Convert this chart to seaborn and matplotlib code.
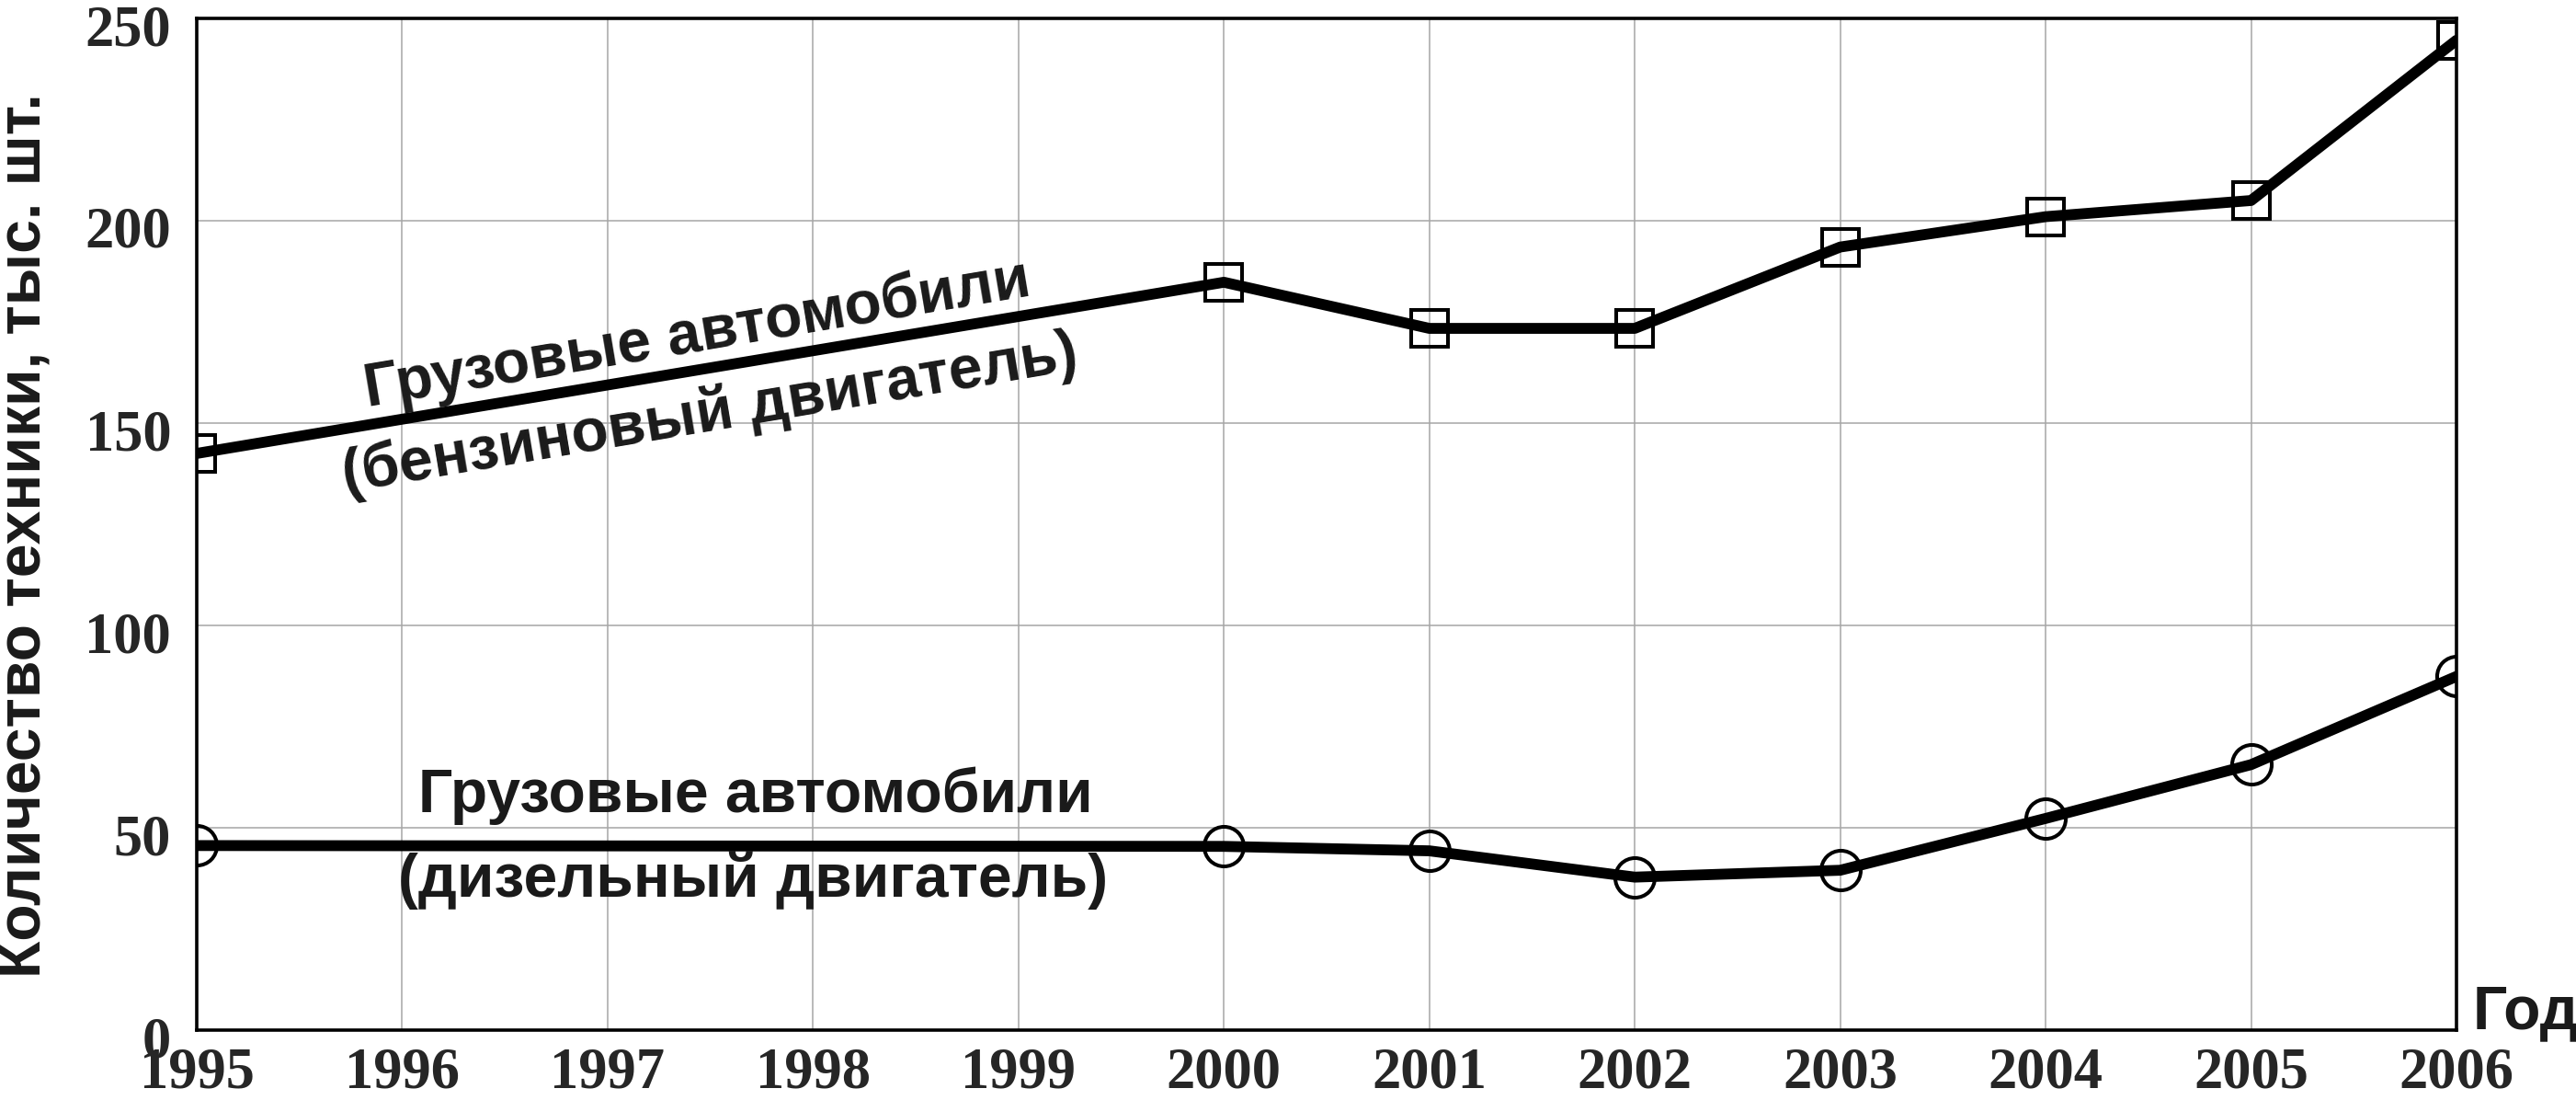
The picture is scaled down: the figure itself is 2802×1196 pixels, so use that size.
import matplotlib
matplotlib.use("Agg")
import matplotlib.pyplot as plt
from matplotlib.transforms import ScaledTranslation
import seaborn as sns
import pandas as pd

# ---- data ----
years = [1995, 2000, 2001, 2002, 2003, 2004, 2005, 2006]
petrol = [142.5, 184.8, 173.4, 173.4, 193.5, 201.0, 205.0, 244.6]
diesel = [45.6, 45.4, 44.3, 37.8, 39.5, 52.3, 65.6, 87.4]
xticks = list(range(1995, 2007))
yticks = [0, 50, 100, 150, 200, 250]
ylabel = "Количество техники, тыс. шт."
xlabel = "Год"
petrol_label = ["Грузовые автомобили", "(бензиновый двигатель)"]
diesel_label = ["Грузовые автомобили", "(дизельный двигатель)"]

sns.set_style("white")
plt.rcParams["font.family"] = ["Liberation Sans", "DejaVu Sans"]

W, H = 2802, 1196
fig = plt.figure(figsize=(W / 100, H / 100), dpi=100)
ax = fig.add_axes([214 / W, (H - 1120) / H, (2672 - 214) / W, 1100 / H])

df_p = pd.DataFrame({"year": years, "value": petrol})
df_d = pd.DataFrame({"year": years, "value": diesel})

common = dict(color="black", linewidth=8.5, markerfacecolor="none",
              markeredgecolor="black", markeredgewidth=2.9,
              solid_capstyle="round", solid_joinstyle="round", zorder=5)
sns.lineplot(data=df_p, x="year", y="value", marker="s", markersize=29, ax=ax, **common)
sns.lineplot(data=df_d, x="year", y="value", marker="o", markersize=31, ax=ax, **common)

ax.set_xlim(1995, 2006)
ax.set_ylim(0, 250)
ax.set_xticks(xticks)
ax.set_yticks(yticks)
ax.grid(True, color="#a6a6a6", linewidth=1.1, zorder=0)
ax.set_axisbelow(True)
for s in ax.spines.values():
    s.set_visible(True)
    s.set_color("black")
    s.set_linewidth(2.6)
ax.set_xlabel("")
ax.set_ylabel("")

tick_font = dict(family=["Liberation Serif", "DejaVu Serif"], weight="bold", size=45)
ax.set_xticklabels([str(t) for t in xticks], fontdict=tick_font)
ax.set_yticklabels([str(t) for t in yticks], fontdict=tick_font)
ax.tick_params(axis="x", length=0, pad=13)
ax.tick_params(axis="y", length=0, pad=20)
shift = ScaledTranslation(0, -7 / 100, fig.dpi_scale_trans)
for lab in ax.get_yticklabels():
    lab.set_transform(lab.get_transform() + shift)

txt = dict(fontsize=47.5, fontweight="bold", color="#1a1a1a")
fig.text(27 / W, (H - 582) / H, ylabel, rotation=90, ha="center", va="center", **txt)
fig.text(2690 / W, (H - 1118) / H, xlabel, ha="left", va="baseline", **txt)

# petrol annotation (rotated along the line)
ax.text(1997.45, 167.8, petrol_label[0], rotation=9.5, rotation_mode="anchor",
        ha="center", va="baseline", zorder=6, **txt)
ax.text(1997.51, 148.2, petrol_label[1], rotation=9.5, rotation_mode="anchor",
        ha="center", va="baseline", zorder=6, **txt)
# diesel annotation
ax.text(1996.08, 53.9, diesel_label[0], ha="left", va="baseline", zorder=6, **txt)
ax.text(1995.98, 33.0, diesel_label[1], ha="left", va="baseline", zorder=6, **txt)

fig.savefig("out.png", dpi=100)
